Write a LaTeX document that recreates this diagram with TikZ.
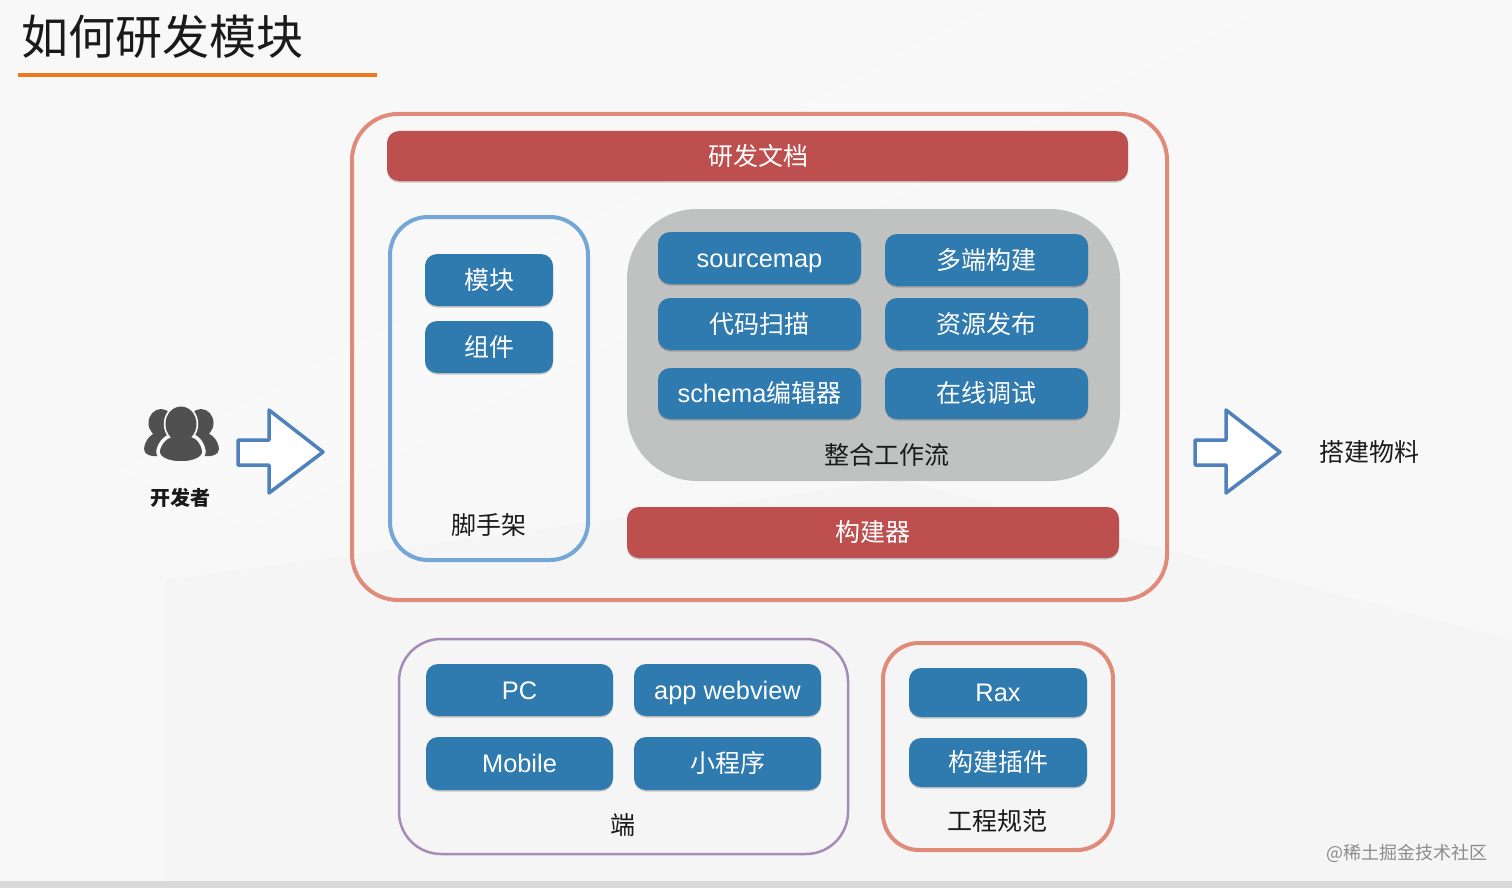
\documentclass[tikz,border=0pt]{standalone}
\usepackage{fontspec}
\setmainfont{Noto Sans CJK SC}
\newfontfamily\latinfont[Scale=1.015]{Liberation Sans}
\usetikzlibrary{shadows}
\definecolor{bgc}{HTML}{F8F8F8}
\definecolor{bgd}{HTML}{F5F5F5}
\definecolor{stripc}{HTML}{D9D9D9}
\definecolor{orangec}{HTML}{EC7A1C}
\definecolor{salmonc}{HTML}{E08A7A}
\definecolor{redc}{HTML}{BD504E}
\definecolor{skyc}{HTML}{74A7D8}
\definecolor{bluec}{HTML}{2F7AAF}
\definecolor{grayc}{HTML}{C0C2C1}
\definecolor{purplec}{HTML}{A48BB8}
\definecolor{arrowc}{HTML}{4F81BD}
\definecolor{iconc}{HTML}{505050}
\definecolor{inkc}{HTML}{1A1A1A}
\newcommand{\boxat}[7]{%
  \pgfmathsetmacro{\bxc}{(#2+#4)/2}\pgfmathsetmacro{\byc}{(#3+#5)/2}%
  \pgfmathsetmacro{\bxw}{#4-#2}\pgfmathsetmacro{\byh}{#5-#3}%
  \node[#6,minimum width=\bxw pt,minimum height=\byh pt] (#1) at (\bxc,\byc) {#7};}
\tikzset{
  x=1pt,y=-1pt,
  base/.style={inner sep=0pt,outer sep=0pt,rectangle},
  frame/.style={base,draw,fill=none},
  solidbox/.style={base,text=white,font=\fontsize{25}{25}\selectfont,
    text height=21pt,text depth=3pt,
    drop shadow={shadow xshift=0pt,shadow yshift=-1.5pt,opacity=.2,fill=black}},
  redbox/.style={solidbox,fill=redc,rounded corners=12pt},
  bluebox/.style={solidbox,fill=bluec,rounded corners=12pt},
  label/.style={inner sep=0pt,text=inkc,font=\fontsize{25}{25}\selectfont},
  blockarrow/.style={draw=arrowc,line width=3.5pt,fill=white,line join=round,
    drop shadow={shadow xshift=1pt,shadow yshift=-1.5pt,opacity=.12,fill=black}},
}
\begin{document}
\begin{tikzpicture}
\useasboundingbox (0,0) rectangle (1512,888);
% background
\fill[bgc] (0,0) rectangle (1512,888);
\fill[bgd] (165,580) -- (900,480) -- (1512,640) -- (1512,881) -- (165,881) -- cycle;
\fill[white,opacity=.2] (1000,0) -- (1280,0) -- (250,530) -- (120,470) -- cycle;
\fill[stripc] (0,881) rectangle (1512,888);
% title
\node[inner sep=0pt,text=inkc,font=\fontsize{47}{47}\selectfont] (title) at (162,37) {如何研发模块};
\coordinate (ruleL) at (18,75);
\coordinate (ruleR) at (377,75);
\draw[orangec,line width=3.5pt] (ruleL) -- (ruleR);
% outer frame
\boxat{outer}{352}{114}{1167}{600}{frame,draw=salmonc,line width=4pt,rounded corners=46pt}{}
\boxat{docs}{387}{131}{1128}{181}{redbox}{\hspace{2pt}研发文档}
% scaffold
\boxat{scaffold}{390}{217}{588}{560}{frame,draw=skyc,line width=4pt,rounded corners=38pt}{}
\boxat{module}{425}{254}{553}{306}{bluebox}{模块}
\boxat{component}{425}{321}{553}{373}{bluebox}{组件}
\node[label] (scaffoldL) at (489,525) {脚手架};
% workflow
\boxat{flow}{627}{209}{1120}{481}{base,fill=grayc,rounded corners=70pt}{}
\boxat{srcmap}{658}{232}{861}{284}{bluebox}{{\latinfont sourcemap}}
\boxat{multi}{885}{234}{1088}{286}{bluebox}{多端构建}
\boxat{scan}{658}{298}{861}{350}{bluebox}{代码扫描}
\boxat{publish}{885}{298}{1088}{350}{bluebox}{资源发布}
\boxat{schema}{658}{368}{861}{419}{bluebox}{{\latinfont schema}编辑器}
\boxat{debug}{885}{368}{1088}{419}{bluebox}{在线调试}
\node[label] (flowL) at (887,455) {整合工作流};
\boxat{builder}{627}{507}{1119}{558}{redbox}{构建器}
% endpoints
\boxat{ends}{399}{639}{848}{854}{frame,draw=purplec,line width=2.5pt,rounded corners=42pt}{}
\boxat{pc}{426}{664}{613}{716}{bluebox}{{\latinfont PC}}
\boxat{webview}{634}{664}{821}{716}{bluebox}{{\latinfont app webview}}
\boxat{mobile}{426}{737}{613}{790}{bluebox}{{\latinfont Mobile}}
\boxat{mini}{634}{737}{821}{790}{bluebox}{小程序}
\node[label] (endsL) at (623,825) {端};
% engineering
\boxat{eng}{883}{643}{1113}{850}{frame,draw=salmonc,line width=4pt,rounded corners=36pt}{}
\boxat{rax}{909}{668}{1087}{717}{bluebox}{{\latinfont Rax}}
\boxat{plugin}{909}{738}{1087}{787}{bluebox}{构建插件}
\node[label] (engL) at (997,821) {工程规范};
% block arrows
\draw[blockarrow] (238,440) -- (269,440) -- (269,410) -- (323,452) -- (269,493) -- (269,465) -- (238,465) -- cycle;
\draw[blockarrow] (1195,440) -- (1226,440) -- (1226,410) -- (1280,452) -- (1226,493) -- (1226,465) -- (1195,465) -- cycle;
% people icon
\begin{scope}
  \fill[iconc] (161,423) ellipse (12.5 and 14);
  \fill[iconc] (201,423) ellipse (12.5 and 14);
  \fill[iconc] (144,449) .. controls (145,439) and (152,432) .. (164,430) -- (178,450) -- (158,456) .. controls (152,457) and (144,455) .. (144,449) -- cycle;
  \fill[iconc] (219,449) .. controls (218,439) and (211,432) .. (198,430) -- (185,450) -- (205,456) .. controls (211,457) and (219,455) .. (219,449) -- cycle;
  \fill[iconc,draw=bgc,line width=3.5pt] (181,424) ellipse (15.5 and 17.5);
  \fill[iconc,draw=bgc,line width=3.5pt] (158,451) .. controls (160,441) and (168,435) .. (174,435) -- (188,435) .. controls (196,435) and (202,441) .. (204,451) .. controls (205,467) and (157,467) .. (158,451) -- cycle;
  \fill[iconc] (181,424) ellipse (15.5 and 17.5);
\end{scope}
\node[label,font=\fontsize{20}{20}\selectfont\bfseries] (devL) at (180,498) {开发者};
\node[label] (matL) at (1369,452) {搭建物料};
\node[inner sep=0pt,text=black!45,font=\fontsize{18}{18}\selectfont] (mark) at (1407,853) {@稀土掘金技术社区};
\end{tikzpicture}
\end{document}
